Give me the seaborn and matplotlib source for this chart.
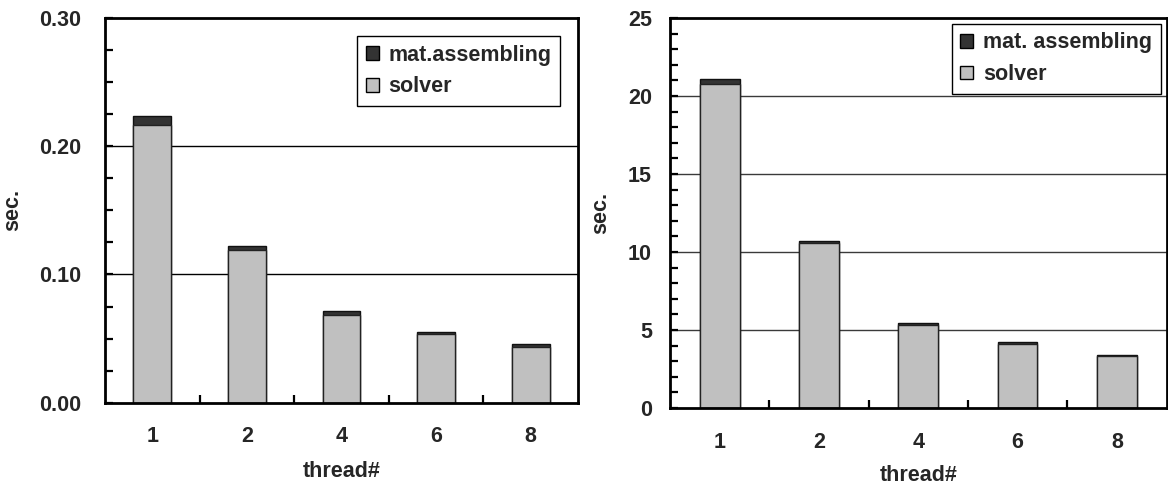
import matplotlib
matplotlib.use("Agg")
import matplotlib.pyplot as plt
from matplotlib.patches import Patch
from matplotlib.ticker import MultipleLocator, FixedLocator, FormatStrFormatter
import seaborn as sns
import pandas as pd

threads = ["1", "2", "4", "6", "8"]
left_solver = [0.2168, 0.1190, 0.0682, 0.0533, 0.0434]
left_mat = [0.0068, 0.0035, 0.0033, 0.0016, 0.0021]
right_solver = [20.78, 10.56, 5.34, 4.12, 3.35]
right_mat = [0.30, 0.15, 0.13, 0.13, 0.03]
left_labels = ["mat.assembling", "solver"]
right_labels = ["mat. assembling", "solver"]

sns.set_style("white")
plt.rcParams["font.family"] = ["Liberation Sans", "DejaVu Sans"]
plt.rcParams["font.weight"] = "bold"

SOLVER_C = "#c0c0c0"
MAT_C = "#333333"
FS = 15.5

fig = plt.figure(figsize=(11.68, 4.84), dpi=100)
W, H = 1168, 484
axL = fig.add_axes([105 / W, (H - 402.7) / H, 473 / W, 384.7 / H])
axR = fig.add_axes([670 / W, (H - 408) / H, 496.5 / W, 390 / H])


def draw(ax, solver, mat, ymax, major, minor, fmt, grid_vals, grid_col, labels,
         legend_anchor, ypad, ylab_x, xlab_y):
    df = pd.DataFrame({"thread": threads,
                       "total": [s + m for s, m in zip(solver, mat)],
                       "solver": solver})
    for g in grid_vals:
        ax.axhline(g, color=grid_col, lw=1.0, zorder=0)
    sns.barplot(data=df, x="thread", y="total", color=MAT_C, width=0.4,
                edgecolor="#111111", linewidth=1.0, saturation=1, ax=ax, zorder=2)
    sns.barplot(data=df, x="thread", y="solver", color=SOLVER_C, width=0.4,
                edgecolor="#222222", linewidth=1.0, saturation=1, ax=ax, zorder=3)
    ax.set_xlim(-0.5, 4.5)
    ax.set_ylim(0, ymax)
    ax.yaxis.set_major_locator(MultipleLocator(major))
    ax.yaxis.set_minor_locator(MultipleLocator(minor))
    ax.yaxis.set_major_formatter(FormatStrFormatter(fmt))
    ax.xaxis.set_minor_locator(FixedLocator([0.5, 1.5, 2.5, 3.5]))
    ax.tick_params(axis="both", which="both", direction="in", color="black",
                   width=1.6, labelsize=FS)
    ax.tick_params(axis="both", which="major", length=6)
    ax.tick_params(axis="both", which="minor", length=6)
    ax.tick_params(axis="y", which="major", pad=ypad)
    ax.tick_params(axis="x", which="major", pad=17)
    ax.tick_params(left=True, bottom=True, which="both")
    for lab in ax.get_xticklabels() + ax.get_yticklabels():
        lab.set_fontweight("bold")
    for sp in ax.spines.values():
        sp.set_visible(True)
        sp.set_color("black")
        sp.set_linewidth(2.0)
        sp.set_zorder(5)
    ax.set_xlabel("thread#", fontsize=FS, fontweight="bold")
    ax.set_ylabel("sec.", fontsize=FS, fontweight="bold")
    ax.xaxis.set_label_coords(0.5, xlab_y)
    ax.yaxis.set_label_coords(ylab_x, 0.5)
    handles = [Patch(facecolor=MAT_C, edgecolor="black", linewidth=1.0),
               Patch(facecolor=SOLVER_C, edgecolor="black", linewidth=1.0)]
    leg = ax.legend(handles, labels, loc="upper right", bbox_to_anchor=legend_anchor,
                    fancybox=False, shadow=False, frameon=True,
                    prop={"weight": "bold", "size": FS},
                    handlelength=0.6, handleheight=0.6, handletextpad=0.45,
                    labelspacing=0.5, borderpad=0.4, borderaxespad=0.0)
    fr = leg.get_frame()
    fr.set_edgecolor("black")
    fr.set_linewidth(1.0)
    fr.set_alpha(1)
    leg.set_zorder(6)


draw(axL, left_solver, left_mat, 0.30, 0.10, 0.025, "%.2f", [0.10, 0.20], "black",
     left_labels, (0.962, 0.953), 17, -0.173, -0.152)
draw(axR, right_solver, right_mat, 25, 5, 1, "%d", [5, 10, 15, 20], "#3a3a3a",
     right_labels, (0.988, 0.985), 13, -0.119, -0.146)

fig.savefig("out.png", dpi=100)
